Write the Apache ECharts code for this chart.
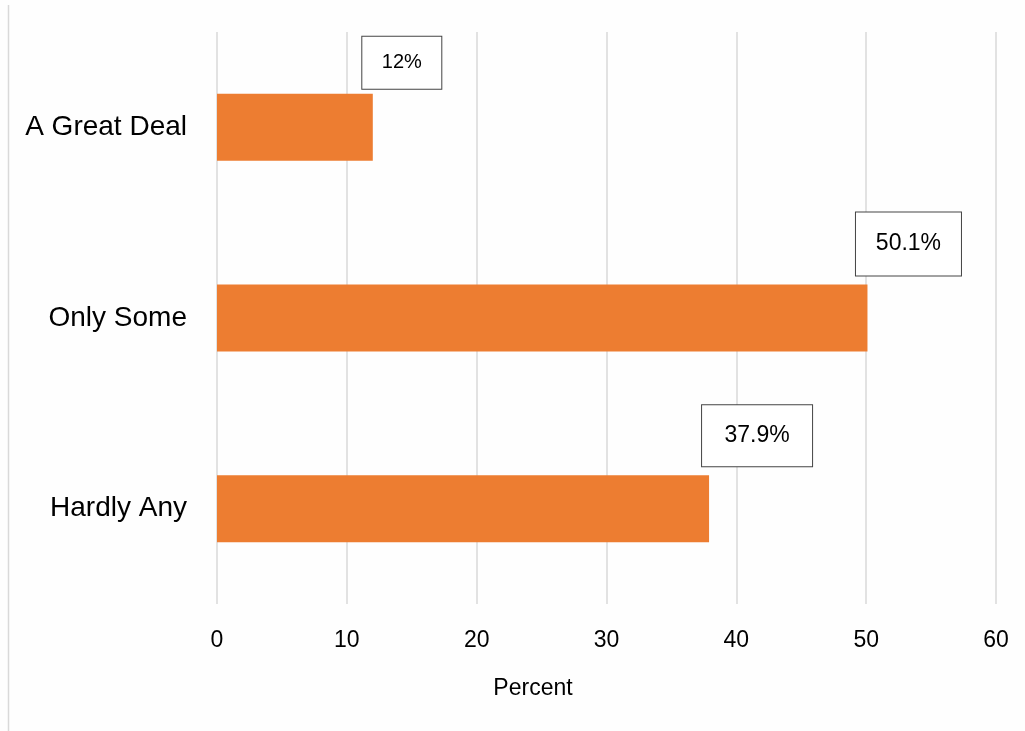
<!DOCTYPE html>
<html>
<head>
<meta charset="utf-8">
<script src="https://cdn.jsdelivr.net/npm/echarts@6/dist/echarts.min.js"></script>
<style>
html,body{margin:0;padding:0;background:#ffffff;}
#chart{width:1025px;height:731px;}
</style>
</head>
<body>
<div id="chart"></div>
<script>
const categories = ['A Great Deal', 'Only Some', 'Hardly Any'];
const values = [12, 50.1, 37.9];
const valueLabels = ['12%', '50.1%', '37.9%'];
const xTicks = { min: 0, max: 60, interval: 10 };
const axisName = 'Percent';

// label box styling (size / offset per bar)
const boxStyles = [
  { w: 79, h: 52, dx: 29, dy: -5, fs: 20 },
  { w: 105, h: 63, dx: 41, dy: -9, fs: 23 },
  { w: 110, h: 61, dx: 48, dy: -9, fs: 23 }
];

const chart = echarts.init(document.getElementById('chart'));
const font = 'Liberation Sans, Arial, Helvetica, sans-serif';

const seriesData = values.map((v, i) => {
  const b = boxStyles[i];
  return {
    value: v,
    label: {
      show: true,
      formatter: valueLabels[i],
      position: ['100%', 0],
      align: 'center',
      verticalAlign: 'bottom',
      offset: [b.dx, b.dy],
      width: b.w,
      height: b.h,
      lineHeight: b.h,
      padding: 0,
      fontSize: b.fs,
      fontFamily: font,
      color: '#000',
      backgroundColor: '#ffffff',
      borderColor: '#444444',
      borderWidth: 1
    }
  };
});

chart.setOption({
  backgroundColor: '#fefefe',
  animation: false,
  grid: { left: 217, right: 29, top: 32, bottom: 127, containLabel: false },
  xAxis: {
    type: 'value',
    min: xTicks.min, max: xTicks.max, interval: xTicks.interval,
    axisLine: { show: false },
    axisTick: { show: false },
    splitLine: { show: true, lineStyle: { color: '#d9d9d9', width: 1.5 } },
    axisLabel: { fontSize: 23, color: '#000', fontFamily: font, margin: 25 },
    name: axisName,
    nameLocation: 'middle',
    nameGap: 73,
    nameTextStyle: { fontSize: 23, color: '#000', fontFamily: font, padding: [0, 147, 0, 0] }
  },
  yAxis: {
    type: 'category',
    data: categories,
    inverse: true,
    axisLine: { show: false },
    axisTick: { show: false },
    splitLine: { show: false },
    axisLabel: { fontSize: 28, color: '#000', fontFamily: font, margin: 30 }
  },
  series: [{
    type: 'bar',
    data: seriesData,
    barWidth: 67,
    itemStyle: { color: '#ED7D31' }
  }],
  graphic: [{
    type: 'line',
    shape: { x1: 8.5, y1: 5, x2: 8.5, y2: 731 },
    style: { stroke: '#d9d9d9', lineWidth: 1.5 },
    silent: true
  }]
});
</script>
</body>
</html>
